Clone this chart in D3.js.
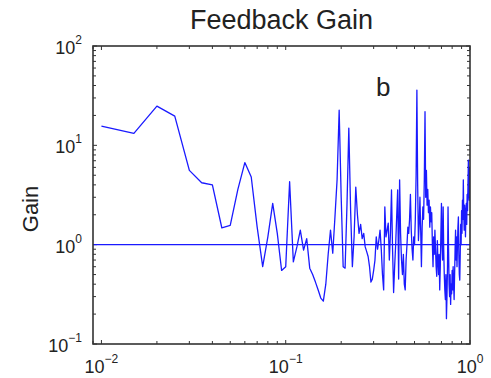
<!DOCTYPE html>
<html>
<head>
<meta charset="utf-8">
<script src="https://cdn.jsdelivr.net/npm/d3@7"></script>
<style>
  body { margin: 0; background: #fff; }
  svg { display: block; font-family: "Liberation Sans", Arial, Helvetica, sans-serif; }
</style>
</head>
<body>
<div id="chart"></div>
<script>
// frequency bins (0.01 .. 1.0)
var freq = [
  .01,.015,.02,.025,.03,.035,.04,.045,.05,.055,
  .06,.065,.07,.075,.08,.085,.09,.095,.1,.105,
  .11,.115,.12,.125,.13,.135,.14,.145,.15,.155,
  .16,.165,.17,.175,.18,.185,.19,.195,.2,.205,
  .21,.215,.22,.225,.23,.235,.24,.245,.25,.255,
  .26,.265,.27,.275,.28,.285,.29,.295,.3,.305,
  .31,.315,.32,.325,.33,.335,.34,.345,.35,.355,
  .36,.365,.37,.375,.38,.385,.39,.395,.4,.405,
  .41,.415,.42,.425,.43,.435,.44,.445,.45,.455,
  .46,.465,.47,.475,.48,.485,.49,.495,.5,.505,
  .51,.515,.52,.525,.53,.535,.54,.545,.55,.555,
  .56,.565,.57,.575,.58,.585,.59,.595,.6,.605,
  .61,.615,.62,.625,.63,.635,.64,.645,.65,.655,
  .66,.665,.67,.675,.68,.685,.69,.695,.7,.705,
  .71,.715,.72,.725,.73,.735,.74,.745,.75,.755,
  .76,.765,.77,.775,.78,.785,.79,.795,.8,.805,
  .81,.815,.82,.825,.83,.835,.84,.845,.85,.855,
  .86,.865,.87,.875,.88,.885,.89,.895,.9,.905,
  .91,.915,.92,.925,.93,.935,.94,.945,.95,.955,
  .96,.965,.97,.975,.98,.985,.99,.995,1
];

// gain, one per bin
var gain = [
  15.6,13.2,24.8,19.7,5.6,4.2,4.0,1.48,1.56,3.6,
  6.7,4.8,1.5,0.6,1.2,2.6,1.3,0.55,0.6,4.3,
  0.67,0.95,1.4,0.88,1.15,0.58,0.5,0.42,0.35,0.29,
  0.27,0.4,0.8,1.4,0.82,1.9,4.5,22.6,3.0,0.6,
  0.58,2.5,14.9,2.2,0.6,1.2,3.8,2.0,1.3,1.6,
  1.15,1.3,0.95,0.85,0.76,0.6,0.42,0.45,0.55,0.7,
  1.2,0.9,1.1,1.4,0.9,0.5,0.35,2.4,1.2,1.4,
  1.65,0.7,1.3,3.55,0.9,0.33,0.6,1.0,1.9,3.55,
  0.45,4.5,1.3,0.7,0.5,0.8,0.4,0.35,0.7,1.0,
  1.5,1.3,1.8,3.2,1.4,0.9,0.7,1.2,1.0,1.8,
  5.0,36,4.0,1.1,1.6,3.0,1.4,0.6,1.5,2.4,
  1.8,4.5,21.8,3.0,5.6,2.5,3.6,2.1,2.8,1.5,
  2.4,1.7,2.1,1.0,0.6,1.2,0.8,1.4,0.9,0.6,
  0.48,1.1,0.7,0.5,0.8,0.35,0.6,1.3,2.6,1.0,
  0.7,2.4,0.9,0.5,0.35,0.28,0.5,0.18,0.3,0.6,
  2.4,0.9,0.4,0.3,0.5,0.25,0.4,0.32,0.55,0.35,
  0.6,0.4,0.28,0.5,0.9,1.4,0.7,1.2,0.6,1.0,
  1.5,1.9,0.8,0.5,0.44,0.8,1.6,1.0,2.2,1.3,
  2.8,1.8,4.5,2.0,1.4,2.5,2.1,1.2,2.0,2.6,
  1.6,3.2,2.2,4.0,7.1,3.5,2.8,6.0,4.5
];

var refGain = [1];            // unity reference line
var xDomain = [0.009, 1];
var yDomain = [0.1, 100];
var xMajor = [-2, -1, 0];     // decade exponents
var yMajor = [-1, 0, 1, 2];
var titleText = "Feedback Gain";
var yLabel = "Gain";
var noteText = "b";

var W = 491, H = 378;
var margin = { top: 46, right: 21, bottom: 34, left: 93 },
  width = W - margin.left - margin.right,
  height = H - margin.top - margin.bottom;

var svg = d3.select("#chart").append("svg")
  .attr("width", W).attr("height", H);

var g = svg.append("g")
  .attr("transform", "translate(" + margin.left + "," + margin.top + ")");

var x = d3.scaleLog().domain(xDomain).range([0, width]);
var y = d3.scaleLog().domain(yDomain).range([height, 0]);

g.append("clipPath").attr("id", "clip")
  .append("rect").attr("width", width).attr("height", height);

// ticks: major at decades, minor at 2..9
function minorTicks(scale) {
  var out = [];
  var d = scale.domain();
  for (var e = -3; e <= 2; e++) {
    for (var m = 2; m <= 9; m++) {
      var v = m * Math.pow(10, e);
      if (v > d[0] && v < d[1]) out.push(v);
    }
  }
  return out;
}

var tickLen = 4, minorLen = 3;
var ticks = g.append("g").attr("stroke", "#333").attr("stroke-width", 1);

xMajor.map(function (e) { return Math.pow(10, e); }).forEach(function (v) {
  ticks.append("line").attr("x1", x(v)).attr("x2", x(v)).attr("y1", height).attr("y2", height - tickLen);
  ticks.append("line").attr("x1", x(v)).attr("x2", x(v)).attr("y1", 0).attr("y2", tickLen);
});
minorTicks(x).forEach(function (v) {
  ticks.append("line").attr("x1", x(v)).attr("x2", x(v)).attr("y1", height).attr("y2", height - minorLen);
  ticks.append("line").attr("x1", x(v)).attr("x2", x(v)).attr("y1", 0).attr("y2", minorLen);
});
yMajor.map(function (e) { return Math.pow(10, e); }).forEach(function (v) {
  ticks.append("line").attr("y1", y(v)).attr("y2", y(v)).attr("x1", 0).attr("x2", tickLen);
  ticks.append("line").attr("y1", y(v)).attr("y2", y(v)).attr("x1", width).attr("x2", width - tickLen);
});
minorTicks(y).forEach(function (v) {
  ticks.append("line").attr("y1", y(v)).attr("y2", y(v)).attr("x1", 0).attr("x2", minorLen);
  ticks.append("line").attr("y1", y(v)).attr("y2", y(v)).attr("x1", width).attr("x2", width - minorLen);
});

// data
var plot = g.append("g").attr("clip-path", "url(#clip)");

plot.selectAll(".ref").data(refGain).join("line")
  .attr("x1", 0).attr("x2", width)
  .attr("y1", function (d) { return y(d); }).attr("y2", function (d) { return y(d); })
  .attr("stroke", "#1a1aff").attr("stroke-width", 1.1);

var line = d3.line()
  .x(function (d, i) { return x(freq[i]); })
  .y(function (d) { return y(d); });

plot.append("path")
  .datum(gain)
  .attr("d", line)
  .attr("fill", "none")
  .attr("stroke", "#1a1aff")
  .attr("stroke-width", 1.3)
  .attr("stroke-linejoin", "round");

// box
g.append("rect")
  .attr("width", width).attr("height", height)
  .attr("fill", "none").attr("stroke", "#333").attr("stroke-width", 1.6);

// tick labels (10 with exponent)
function powLabel(sel, e) {
  sel.append("tspan").text("10");
  sel.append("tspan").attr("dy", -10).attr("font-size", 12)
    .text(e < 0 ? "\u2212" + (-e) : String(e));
}

xMajor.forEach(function (e) {
  var t = g.append("text")
    .attr("x", x(Math.pow(10, e)))
    .attr("y", height + 29)
    .attr("text-anchor", "middle")
    .attr("font-size", 18)
    .attr("fill", "#222");
  powLabel(t, e);
});

yMajor.forEach(function (e) {
  var t = g.append("text")
    .attr("x", -11)
    .attr("y", y(Math.pow(10, e)) + 8)
    .attr("text-anchor", "end")
    .attr("font-size", 18)
    .attr("fill", "#222");
  powLabel(t, e);
});

// title, axis label, annotation
svg.append("text")
  .attr("x", margin.left + width / 2)
  .attr("y", 29)
  .attr("text-anchor", "middle")
  .attr("font-size", 27)
  .attr("fill", "#222")
  .text(titleText);

svg.append("text")
  .attr("transform", "translate(38," + (margin.top + height / 2 + 14) + ") rotate(-90)")
  .attr("text-anchor", "middle")
  .attr("font-size", 22)
  .attr("fill", "#222")
  .text(yLabel);

svg.append("text")
  .attr("x", 376)
  .attr("y", 96)
  .attr("font-size", 26)
  .attr("fill", "#222")
  .text(noteText);
</script>
</body>
</html>
